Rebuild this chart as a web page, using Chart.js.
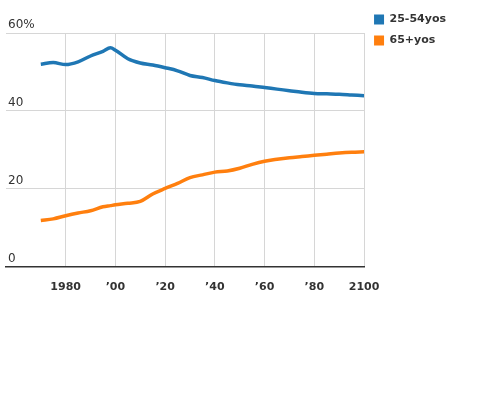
<!DOCTYPE html>
<html>
<head>
<meta charset="utf-8">
<script src="https://cdn.jsdelivr.net/npm/chart.js@4/dist/chart.umd.min.js"></script>
<style>
  html, body { margin: 0; padding: 0; background: #fff; }
  #wrap { width: 480px; height: 400px; position: relative; }
</style>
</head>
<body>
<div id="wrap"><canvas id="chart"></canvas></div>
<script>
const years = [1970, 1975, 1980, 1985, 1990, 1995, 1998, 2000, 2005, 2010, 2015, 2020, 2025, 2030,
    2035, 2040, 2045, 2050, 2055, 2060, 2065, 2070, 2075, 2080, 2085, 2090, 2095, 2100];

const prime = [52.0, 52.4, 51.9, 52.6, 54.1, 55.3, 56.2, 55.6, 53.4, 52.3, 51.8, 51.1, 50.3, 49.1,
    48.6, 47.8, 47.2, 46.7, 46.4, 46.0, 45.6, 45.2, 44.8, 44.5, 44.4, 44.3, 44.1, 43.9];

const seniors = [11.9, 12.3, 13.1, 13.8, 14.4, 15.4, 15.7, 15.9, 16.3, 16.8, 18.7, 20.1, 21.4, 22.9,
    23.6, 24.3, 24.6, 25.3, 26.3, 27.1, 27.6, 28.0, 28.3, 28.6, 28.9, 29.2, 29.4, 29.5];

const xTicks = [1980, 2000, 2020, 2040, 2060, 2080, 2100];
const xTickLabels = ['1980', '\u201900', '\u201920', '\u201940', '\u201960', '\u201980', '2100'];
const yTicks = [0, 20, 40, 60];
const yTickLabels = ['0', '20', '40', '60%'];

const toPoints = (vals) => years.map((yr, i) => ({ x: yr, y: vals[i] }));

const ctx = document.getElementById('chart').getContext('2d');
new Chart(ctx, {
    type: 'line',
    data: {
        datasets: [
            {
                label: '25-54yos',
                data: toPoints(prime),
                borderColor: '#1f77b4',
                backgroundColor: '#1f77b4',
                borderWidth: 3.5,
                pointRadius: 0,
                cubicInterpolationMode: 'monotone',
            },
            {
                label: '65+yos',
                data: toPoints(seniors),
                borderColor: '#ff7f0e',
                backgroundColor: '#ff7f0e',
                borderWidth: 3.5,
                pointRadius: 0,
                cubicInterpolationMode: 'monotone',
            },
        ],
    },
    options: {
        responsive: true,
        maintainAspectRatio: false,
        animation: false,
        layout: { padding: { left: 2, right: 24, top: 4, bottom: 92 } },
        plugins: {
            tooltip: { enabled: false },
            legend: {
                position: 'right',
                align: 'start',
                labels: {
                    boxWidth: 10,
                    boxHeight: 10,
                    padding: 10,
                    color: '#333',
                    font: { family: 'DejaVu Sans', size: 11, weight: 'bold' },
                    generateLabels: (chart) =>
                        Chart.defaults.plugins.legend.labels.generateLabels(chart).map((l) => ({ ...l, lineWidth: 0 })),
                },
            },
        },
        scales: {
            x: {
                type: 'linear',
                min: 1956,
                max: 2100,
                afterBuildTicks: (axis) => { axis.ticks = xTicks.map((v) => ({ value: v })); },
                grid: { color: '#d6d6d6', lineWidth: 1, drawTicks: false },
                border: { display: true, color: '#333', width: 1.5 },
                ticks: {
                    padding: 14,
                    color: '#333',
                    font: { family: 'DejaVu Sans', size: 11, weight: 'bold' },
                    maxRotation: 0,
                    callback: (v) => xTickLabels[xTicks.indexOf(v)],
                },
            },
            y: {
                min: 0,
                max: 60,
                afterBuildTicks: (axis) => { axis.ticks = yTicks.map((v) => ({ value: v })); },
                grid: { color: (c) => (c.tick && c.tick.value === 0 ? '#333' : '#d6d6d6'), drawTicks: false },
                border: { display: false },
                ticks: {
                    mirror: true,
                    padding: 2,
                    labelOffset: -8,
                    color: '#333',
                    font: { family: 'DejaVu Sans', size: 12 },
                    callback: (v) => yTickLabels[yTicks.indexOf(v)],
                },
            },
            top: {
                type: 'linear',
                position: 'top',
                display: true,
                grid: { display: false },
                border: { display: false },
                ticks: { display: false },
                afterFit: (axis) => { axis.height = 29; },
            },
        },
    },
});
</script>
</body>
</html>
